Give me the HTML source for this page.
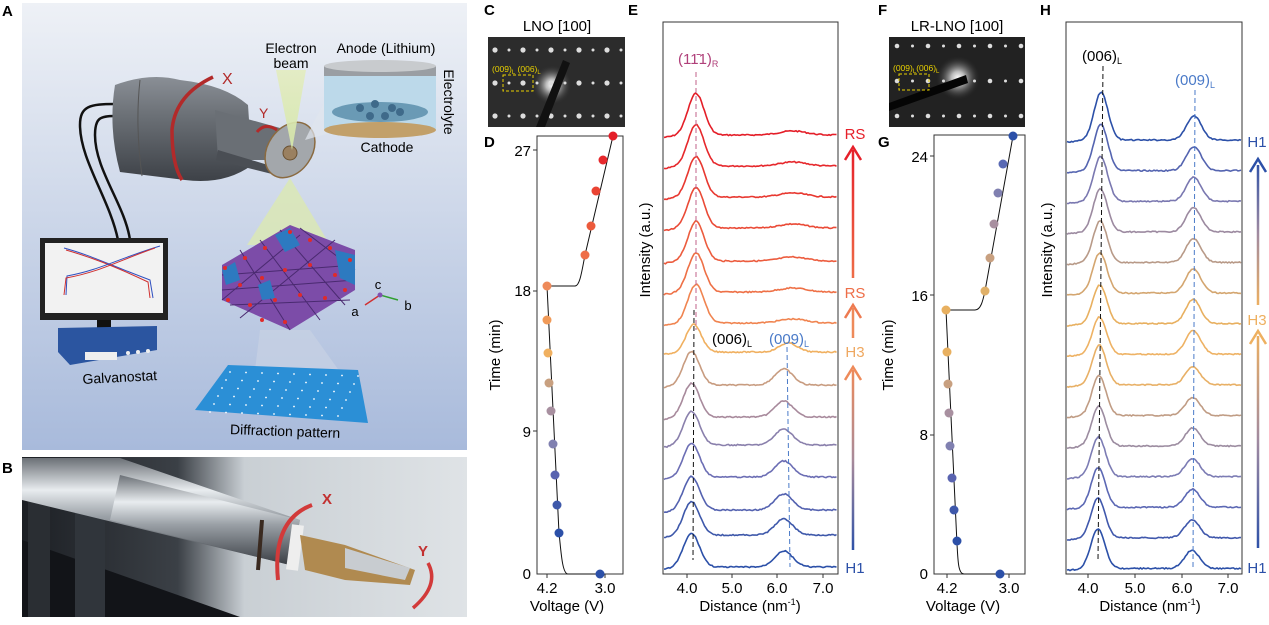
<!DOCTYPE html>
<html><head><meta charset="utf-8">
<style>
html,body{margin:0;padding:0;background:#fff;}
body{width:1269px;height:620px;overflow:hidden;font-family:"Liberation Sans",Arial,sans-serif;}
svg text{font-family:"Liberation Sans",Arial,sans-serif;}
</style></head>
<body>
<svg id="s" width="1269" height="620" viewBox="0 0 1269 620" xmlns="http://www.w3.org/2000/svg">
<defs>
<linearGradient id="bgA" x1="0" y1="0" x2="0" y2="1"><stop offset="0" stop-color="#eef1f6"/><stop offset="1" stop-color="#a8badb"/></linearGradient>
<linearGradient id="cyl" x1="0" y1="0" x2="0" y2="1"><stop offset="0" stop-color="#8a8f96"/><stop offset="0.35" stop-color="#6d7278"/><stop offset="1" stop-color="#3d4147"/></linearGradient>
<linearGradient id="rod" x1="0" y1="0" x2="0" y2="1"><stop offset="0" stop-color="#6b7076"/><stop offset="0.3" stop-color="#e8ecef"/><stop offset="0.55" stop-color="#9aa0a6"/><stop offset="1" stop-color="#3a3e44"/></linearGradient>
<linearGradient id="beam" x1="0" y1="0" x2="0" y2="1"><stop offset="0" stop-color="#e3ecc0"/><stop offset="1" stop-color="#d6e8a8"/></linearGradient>
<linearGradient id="bgB" x1="0" y1="0" x2="1" y2="0"><stop offset="0" stop-color="#1c1f24"/><stop offset="0.35" stop-color="#3b4046"/><stop offset="0.5" stop-color="#c9cfd4"/><stop offset="1" stop-color="#dfe3e6"/></linearGradient>
<linearGradient id="aE1" gradientUnits="userSpaceOnUse" x1="0" y1="280" x2="0" y2="148"><stop offset="0" stop-color="#ee6e48"/><stop offset="1" stop-color="#e6202a"/></linearGradient>
<linearGradient id="aE3" gradientUnits="userSpaceOnUse" x1="0" y1="552" x2="0" y2="368"><stop offset="0" stop-color="#2c50a8"/><stop offset="0.5" stop-color="#a88a9a"/><stop offset="1" stop-color="#ee8a5a"/></linearGradient>
<linearGradient id="aH1" gradientUnits="userSpaceOnUse" x1="0" y1="307" x2="0" y2="160"><stop offset="0" stop-color="#eeb060"/><stop offset="0.5" stop-color="#a08aa0"/><stop offset="1" stop-color="#2c50a8"/></linearGradient>
<linearGradient id="aH2" gradientUnits="userSpaceOnUse" x1="0" y1="550" x2="0" y2="332"><stop offset="0" stop-color="#2c50a8"/><stop offset="0.5" stop-color="#a08aa0"/><stop offset="1" stop-color="#eeb060"/></linearGradient>
<radialGradient id="glow"><stop offset="0" stop-color="#fff"/><stop offset="0.3" stop-color="#bbb"/><stop offset="1" stop-color="#2a2a2a" stop-opacity="0"/></radialGradient>
</defs>

<!-- Panel A -->
<text x="2" y="16" font-size="15" font-weight="bold">A</text>
<rect x="22" y="3" width="445" height="447" fill="url(#bgA)"/>
<path d="M115,104 C90,104 80,106 80,125 C80,160 110,200 118,240" fill="none" stroke="#111" stroke-width="2.5"/>
<path d="M115,116 C100,116 95,118 95,135 C95,170 125,205 130,240" fill="none" stroke="#111" stroke-width="2.5"/>
<path d="M115,85 Q150,72 180,80 Q225,85 248,105 L252,165 Q225,185 185,180 L120,172 Q108,128 115,85 Z" fill="url(#cyl)"/>
<path d="M140,80 Q135,125 142,176" fill="none" stroke="#555" stroke-width="1"/>
<path d="M215,110 L280,128 L285,160 L218,160 Z" fill="#6a6f75"/>
<path d="M218,150 L278,168 L276,175 L216,160 Z" fill="#4a4e54"/>
<ellipse cx="290" cy="150" rx="22" ry="30" transform="rotate(35 290 150)" fill="#a3a7ab" stroke="#8a6a40" stroke-width="1.5"/>
<ellipse cx="290" cy="153" rx="7" ry="7" fill="#9a8060" stroke="#6a5030"/>
<path d="M213,77 Q175,95 172,130 Q172,165 182,180" fill="none" stroke="#b22a2a" stroke-width="3.5"/>
<text x="222" y="84" font-size="16" fill="#b22a2a">X</text>
<path d="M257,132 Q265,122 277,130" fill="none" stroke="#b22a2a" stroke-width="3"/>
<text x="259" y="118" font-size="14" fill="#b22a2a">Y</text>
<polygon points="276,70 306,70 292,150" fill="url(#beam)" opacity="0.9"/>
<polygon points="290,178 330,245 247,245" fill="#dbe8b5" opacity="0.85"/>
<polygon points="260,330 310,330 340,372 255,370" fill="#c8d2e4" opacity="0.7"/>
<text x="291" y="53" font-size="14" text-anchor="middle">Electron</text>
<text x="291" y="68" font-size="14" text-anchor="middle">beam</text>
<text x="386" y="53" font-size="14" text-anchor="middle">Anode (Lithium)</text>
<text x="444" y="102" font-size="14" transform="rotate(90 444 102)" text-anchor="middle">Electrolyte</text>
<text x="387" y="152" font-size="14" text-anchor="middle">Cathode</text>
<polygon points="305,140 325,100 340,130" fill="#dfe5ee" opacity="0.7"/>
<rect x="324" y="70" width="112" height="60" fill="#bcd9ea"/>
<ellipse cx="380" cy="130" rx="56" ry="8" fill="#c2a06a"/>
<ellipse cx="380" cy="112" rx="48" ry="10" fill="#6a9ab5"/>
<rect x="324" y="66" width="112" height="10" fill="#9a9ea3"/>
<ellipse cx="380" cy="66" rx="56" ry="6" fill="#c8cbce"/>
<g fill="#3f6a8a"><circle cx="360" cy="108" r="4"/><circle cx="375" cy="104" r="4"/><circle cx="392" cy="108" r="4"/><circle cx="370" cy="116" r="4"/><circle cx="385" cy="116" r="4"/><circle cx="400" cy="112" r="4"/></g>
<rect x="40" y="238" width="128" height="82" fill="#222"/>
<rect x="45" y="243" width="118" height="70" fill="#f2f2f2"/>
<path d="M64,248 C90,255 110,265 150,280 L153,298" fill="none" stroke="#3050c0" stroke-width="1"/>
<path d="M66,250 C90,257 112,265 148,282 L150,298" fill="none" stroke="#d03030" stroke-width="1"/>
<path d="M66,295 L67,276 C100,270 120,258 160,246" fill="none" stroke="#3050c0" stroke-width="1"/>
<path d="M64,295 L66,278 C100,272 120,260 155,248" fill="none" stroke="#d03030" stroke-width="1"/>
<rect x="97" y="320" width="14" height="12" fill="#111"/>
<rect x="82" y="330" width="50" height="10" fill="#111"/>
<polygon points="58,328 157,326 157,350 70,365 58,352" fill="#2b55a0"/>
<rect x="85" y="352" width="32" height="8" fill="#eee"/>
<circle cx="128" cy="353" r="2" fill="#eee"/><circle cx="138" cy="352" r="2" fill="#eee"/><circle cx="148" cy="351" r="2" fill="#eee"/>
<text x="120" y="382" font-size="14" text-anchor="middle" transform="rotate(-3 120 382)">Galvanostat</text>
<polygon points="222,265 290,225 355,250 355,290 290,330 222,300" fill="#7c4ca8"/>
<g stroke="#4a2a70" stroke-width="1" fill="none">
<path d="M222,275 L355,265 M222,290 L355,280 M230,305 L350,300 M240,250 L290,330 M260,240 L320,320 M280,230 L345,305 M300,228 L355,270 M222,300 L300,235 M240,318 L335,240"/>
</g>
<polygon points="275,235 290,228 300,245 285,252" fill="#2d7ac0"/>
<polygon points="222,270 235,262 240,280 226,285" fill="#2d7ac0"/>
<polygon points="258,285 270,280 275,298 262,300" fill="#2d7ac0"/>
<polygon points="335,250 355,255 355,285 340,278" fill="#2d7ac0"/>
<g fill="#e02a2a"><circle cx="225" cy="268" r="2"/><circle cx="245" cy="258" r="2"/><circle cx="265" cy="248" r="2"/><circle cx="290" cy="232" r="2"/><circle cx="310" cy="240" r="2"/><circle cx="330" cy="248" r="2"/><circle cx="350" cy="260" r="2"/><circle cx="240" cy="285" r="2"/><circle cx="262" cy="278" r="2"/><circle cx="285" cy="270" r="2"/><circle cx="310" cy="265" r="2"/><circle cx="335" cy="275" r="2"/><circle cx="228" cy="300" r="2"/><circle cx="250" cy="305" r="2"/><circle cx="275" cy="300" r="2"/><circle cx="300" cy="295" r="2"/><circle cx="325" cy="298" r="2"/><circle cx="262" cy="320" r="2"/><circle cx="285" cy="322" r="2"/><circle cx="345" cy="290" r="2"/></g>
<line x1="380" y1="295" x2="365" y2="305" stroke="#d03030" stroke-width="1.5"/>
<line x1="380" y1="295" x2="398" y2="300" stroke="#30a030" stroke-width="1.5"/>
<circle cx="380" cy="295" r="2.5" fill="#8050b0"/>
<text x="378" y="289" font-size="13" text-anchor="middle">c</text>
<text x="355" y="316" font-size="13" text-anchor="middle">a</text>
<text x="408" y="310" font-size="13" text-anchor="middle">b</text>
<polygon points="228,365 358,370 368,423 195,410" fill="#2b8fd6"/>
<g id="dots" fill="#fff"></g>
<text x="285" y="436" font-size="14" text-anchor="middle" transform="rotate(2 285 436)">Diffraction pattern</text>

<!-- Panel B -->
<text x="2" y="473" font-size="15" font-weight="bold">B</text>
<rect x="22" y="457" width="445" height="160" fill="url(#bgB)"/>
<polygon points="22,540 240,617 22,617" fill="#121418"/>
<rect x="28" y="480" width="22" height="137" fill="#2a2e33"/>
<rect x="75" y="500" width="30" height="117" fill="#30353b"/>
<polygon points="22,458 120,458 300,520 290,565 22,500" fill="url(#rod)"/>
<polygon points="120,475 300,520 290,565 110,520" fill="url(#rod)"/>
<path d="M262,520 L258,570" stroke="#3a2a20" stroke-width="4"/>
<path d="M298,525 L292,570" stroke="#eee" stroke-width="12"/>
<polygon points="300,535 345,545 415,570 410,585 345,580 305,570" fill="#b08a50"/>
<polygon points="345,548 410,568 405,580 345,568" fill="#c8ccd0"/>
<path d="M312,505 Q272,520 278,580" fill="none" stroke="#d23a3a" stroke-width="4"/>
<text x="322" y="504" font-size="15" fill="#c23030" font-weight="bold">X</text>
<path d="M428,563 Q440,585 413,608" fill="none" stroke="#d23a3a" stroke-width="3.5"/>
<text x="418" y="556" font-size="15" fill="#c23030" font-weight="bold">Y</text>

<!-- C -->
<text x="484" y="15" font-size="15" font-weight="bold">C</text>
<text x="557" y="31" font-size="15" text-anchor="middle">LNO [100]</text>
<rect x="488" y="37" width="137" height="90" fill="#2c2c2c"/>
<circle cx="552" cy="85" r="20" fill="url(#glow)"/>
<g id="cdots" fill="#ddd"></g>
<polygon points="563,60 570,63 545,127 536,127" fill="#111"/>
<rect x="503" y="75" width="30" height="16" fill="none" stroke="#e8d000" stroke-dasharray="3,2"/>
<text x="492" y="72" font-size="8.5" fill="#e8d000">(009)<tspan font-size="6" dy="2">L</tspan><tspan dy="-2"> (006)</tspan><tspan font-size="6" dy="2">L</tspan></text>

<!-- F -->
<text x="878" y="15" font-size="15" font-weight="bold">F</text>
<text x="957" y="31" font-size="15" text-anchor="middle">LR-LNO [100]</text>
<rect x="889" y="37" width="136" height="90" fill="#222"/>
<circle cx="958" cy="78" r="22" fill="url(#glow)"/>
<g id="fdots" fill="#ddd"></g>
<polygon points="889,103 966,75 968,83 889,111" fill="#050505"/>
<rect x="899" y="74" width="30" height="16" fill="none" stroke="#e8d000" stroke-dasharray="3,2"/>
<text x="893" y="71" font-size="8.5" fill="#e8d000">(009)<tspan font-size="6" dy="2">L</tspan><tspan dy="-2">(006)</tspan><tspan font-size="6" dy="2">L</tspan></text>

<!-- D -->
<text x="484" y="147" font-size="15" font-weight="bold">D</text>
<rect x="537" y="136" width="86" height="438" fill="none" stroke="#333" stroke-width="1"/>
<g font-size="15" text-anchor="end">
<text x="531" y="156">27</text><text x="531" y="296">18</text><text x="531" y="437">9</text><text x="531" y="579">0</text></g>
<g stroke="#333"><line x1="533" y1="150" x2="537" y2="150"/><line x1="533" y1="291" x2="537" y2="291"/><line x1="533" y1="431" x2="537" y2="431"/><line x1="547" y1="574" x2="547" y2="578"/><line x1="605" y1="574" x2="605" y2="578"/></g>
<g font-size="15" text-anchor="middle"><text x="547" y="593">4.2</text><text x="605" y="593">3.0</text><text x="567" y="611">Voltage (V)</text></g>
<text x="500" y="355" font-size="15" text-anchor="middle" transform="rotate(-90 500 355)">Time (min)</text>
<path d="M600,574 L568,574 C562,574 561,550 559,533 L547,286 L575,286 C580,286 582,270 585,255 L613,136" fill="none" stroke="#111" stroke-width="1"/>
<g id="ddots"></g>

<!-- E -->
<text x="628" y="15" font-size="15" font-weight="bold">E</text>
<rect x="663" y="22" width="175" height="552" fill="none" stroke="#333"/>
<g id="ecur"></g>
<line x1="696" y1="72" x2="696" y2="330" stroke="#c0608a" stroke-dasharray="5,3"/>
<line x1="694" y1="310" x2="693" y2="560" stroke="#111" stroke-dasharray="5,3"/>
<line x1="787" y1="347" x2="790" y2="567" stroke="#4a7ac8" stroke-dasharray="5,3"/>
<text x="678" y="64" font-size="15" fill="#b0407a">(11̄1)<tspan font-size="9" dy="3">R</tspan></text>
<text x="712" y="344" font-size="15">(006)<tspan font-size="9" dy="3">L</tspan></text>
<text x="769" y="344" font-size="15" fill="#4a7ac8">(009)<tspan font-size="9" dy="3">L</tspan></text>
<g stroke="#333"><line x1="687" y1="574" x2="687" y2="578"/><line x1="732" y1="574" x2="732" y2="578"/><line x1="777" y1="574" x2="777" y2="578"/><line x1="823" y1="574" x2="823" y2="578"/></g>
<g font-size="15" text-anchor="middle"><text x="687" y="593">4.0</text><text x="732" y="593">5.0</text><text x="777" y="593">6.0</text><text x="823" y="593">7.0</text>
<text x="750" y="611">Distance (nm<tspan font-size="9" dy="-6">-1</tspan><tspan dy="6">)</tspan></text></g>
<text x="650" y="250" font-size="15" text-anchor="middle" transform="rotate(-90 650 250)">Intensity (a.u.)</text>
<text x="855" y="139" font-size="15" text-anchor="middle" fill="#e6202a">RS</text>
<line x1="853" y1="278" x2="853" y2="150" stroke="url(#aE1)" stroke-width="2.5"/>
<path d="M845,160 L853,147 L861,160" fill="none" stroke="#e6202a" stroke-width="2.5"/>
<text x="855" y="298" font-size="15" text-anchor="middle" fill="#ee6e48">RS</text>
<line x1="853" y1="338" x2="853" y2="308" stroke="#ee8a5a" stroke-width="2.5"/>
<path d="M845,318 L853,305 L861,318" fill="none" stroke="#ee7a50" stroke-width="2.5"/>
<text x="855" y="357" font-size="15" text-anchor="middle" fill="#efa860">H3</text>
<line x1="853" y1="550" x2="853" y2="370" stroke="url(#aE3)" stroke-width="2.5"/>
<path d="M845,380 L853,367 L861,380" fill="none" stroke="#ee8a5a" stroke-width="2.5"/>
<text x="855" y="573" font-size="15" text-anchor="middle" fill="#2c50a8">H1</text>

<!-- G -->
<text x="878" y="147" font-size="15" font-weight="bold">G</text>
<rect x="934" y="135" width="91" height="439" fill="none" stroke="#333"/>
<g font-size="15" text-anchor="end"><text x="928" y="162">24</text><text x="928" y="301">16</text><text x="928" y="440">8</text><text x="928" y="579">0</text></g>
<g stroke="#333"><line x1="930" y1="156" x2="934" y2="156"/><line x1="930" y1="295" x2="934" y2="295"/><line x1="930" y1="435" x2="934" y2="435"/><line x1="947" y1="574" x2="947" y2="578"/><line x1="1009" y1="574" x2="1009" y2="578"/></g>
<g font-size="15" text-anchor="middle"><text x="947" y="593">4.2</text><text x="1009" y="593">3.0</text><text x="963" y="611">Voltage (V)</text></g>
<text x="893" y="355" font-size="15" text-anchor="middle" transform="rotate(-90 893 355)">Time (min)</text>
<path d="M1000,574 L964,574 C958,574 958,560 957,544 L946,310 L975,310 C981,310 983,300 985,291 L1013,136" fill="none" stroke="#111" stroke-width="1"/>
<g id="gdots"></g>

<!-- H -->
<text x="1040" y="15" font-size="15" font-weight="bold">H</text>
<rect x="1066" y="22" width="176" height="552" fill="none" stroke="#333"/>
<g id="hcur"></g>
<line x1="1103" y1="66" x2="1098" y2="560" stroke="#111" stroke-dasharray="5,3"/>
<line x1="1195" y1="90" x2="1193" y2="567" stroke="#4a7ac8" stroke-dasharray="5,3"/>
<text x="1082" y="61" font-size="15">(006)<tspan font-size="9" dy="3">L</tspan></text>
<text x="1175" y="85" font-size="15" fill="#4a7ac8">(009)<tspan font-size="9" dy="3">L</tspan></text>
<g stroke="#333"><line x1="1088" y1="574" x2="1088" y2="578"/><line x1="1135" y1="574" x2="1135" y2="578"/><line x1="1182" y1="574" x2="1182" y2="578"/><line x1="1228" y1="574" x2="1228" y2="578"/></g>
<g font-size="15" text-anchor="middle"><text x="1088" y="593">4.0</text><text x="1135" y="593">5.0</text><text x="1182" y="593">6.0</text><text x="1228" y="593">7.0</text>
<text x="1150" y="611">Distance (nm<tspan font-size="9" dy="-6">-1</tspan><tspan dy="6">)</tspan></text></g>
<text x="1052" y="250" font-size="15" text-anchor="middle" transform="rotate(-90 1052 250)">Intensity (a.u.)</text>
<text x="1257" y="147" font-size="15" text-anchor="middle" fill="#2c50a8">H1</text>
<line x1="1258" y1="305" x2="1258" y2="165" stroke="url(#aH1)" stroke-width="2.5"/>
<path d="M1250,172 L1258,159 L1266,172" fill="none" stroke="#2c50a8" stroke-width="2.5"/>
<text x="1257" y="325" font-size="15" text-anchor="middle" fill="#eeb060">H3</text>
<line x1="1258" y1="548" x2="1258" y2="336" stroke="url(#aH2)" stroke-width="2.5"/>
<path d="M1250,344 L1258,331 L1266,344" fill="none" stroke="#eeb060" stroke-width="2.5"/>
<text x="1257" y="573" font-size="15" text-anchor="middle" fill="#2c50a8">H1</text>
</svg>
<script>
(function(){
var NS="http://www.w3.org/2000/svg";
function el(p,t,a){var e=document.createElementNS(NS,t);for(var k in a)e.setAttribute(k,a[k]);document.getElementById(p).appendChild(e);return e;}
var seed=7;function rnd(){seed=(seed*9301+49297)%233280;return seed/233280;}
function g(x,m,s){return Math.exp(-(x-m)*(x-m)/(2*s*s));}
function curve(p,x0,x1,x2px,base,peaks,col,w){
 var d="";for(var px=x0;px<=x1;px+=1.5){var x=x2px(px);var y=base+5*Math.exp(-(x-3.4)/0.4)*0.6;
 for(var i=0;i<peaks.length;i++){y-=peaks[i][1]*g(x,peaks[i][0],peaks[i][2]);}
 y+=(rnd()-0.5)*1.2;d+=(d?"L":"M")+px.toFixed(1)+","+y.toFixed(1);}
 el(p,"path",{d:d,fill:"none",stroke:col,"stroke-width":w||1.6});}
var eb=[135,166,197,228,261,292,323,352,385,417,445,477,510,535,567];
var ec=["#e41e28","#e6282c","#e83830","#ea4a36","#ec5c3e","#ee7046","#f08450","#f0b060","#c89c80","#a88a9c","#8a80ac","#6c6eb4","#5462b0","#3e58aa","#2c50a8"];
var eX=function(px){return 4+(px-687)/45;};
for(var i=0;i<15;i++){var pk;
 if(i<7)pk=[[4.2,42-i*0.5,0.18],[6.35,4,0.3]];
 else if(i==7)pk=[[4.15,28,0.17],[6.25,9,0.2]];
 else pk=[[4.1,34,0.18],[6.15,16,0.2]];
 curve("ecur",664,837,eX,eb[i],pk,ec[i]);}
var hX=function(px){return 4+(px-1088)/46.7;};
var hc=["#2c50a8","#5464b0","#7a78b0","#9c8aa0","#b89a88","#d4a670","#e8b060","#eeb264","#e8b066","#c09c84","#9c8ca0","#7c7cb4","#5c68b4","#4058ac","#2c50a8"];
for(var i=0;i<15;i++){var b=140+i*30.6;
 var a1=i<8?48-i*1.5:40,a2=i<8?24:18;
 curve("hcur",1067,1241,hX,b,[[4.28-i*0.005,a1,0.15],[6.27-i*0.003,a2,0.16]],hc[i]);}
var dd=[[600,574,"#2c50a8"],[559,533,"#2c50a8"],[557,505,"#3e58aa"],[555,475,"#5a64b0"],[553,444,"#8080b0"],[551,411,"#a890a0"],[549,383,"#c8a080"],[548,353,"#f0b060"],[547,320,"#f09a58"],[547,286,"#ee8a5a"],[585,255,"#ee6e48"],[591,226,"#ec5a3c"],[596,191,"#ea4433"],[603,160,"#e6282c"],[613,136,"#e41e28"]];
dd.forEach(function(q){el("ddots","circle",{cx:q[0],cy:q[1],r:4.5,fill:q[2]});});
var gd=[[1000,574,"#2c50a8"],[957,541,"#2c50a8"],[954,510,"#3e58aa"],[952,478,"#5a64b0"],[950,446,"#8080b0"],[949,413,"#a890a0"],[948,384,"#c8a080"],[947,352,"#e8b060"],[946,310,"#e8b060"],[985,291,"#e0b068"],[990,258,"#c8a080"],[994,224,"#a890a0"],[998,193,"#8080b0"],[1003,164,"#5a6ab4"],[1013,136,"#2c50a8"]];
gd.forEach(function(q){el("gdots","circle",{cx:q[0],cy:q[1],r:4.5,fill:q[2]});});
for(var r=0;r<3;r++)for(var c=0;c<10;c++){el("cdots","circle",{cx:495+c*14,cy:50+r*33,r:c%2?1.5:2.6});}
for(var r=0;r<3;r++)for(var c=0;c<9;c++){el("fdots","circle",{cx:897+c*15.5,cy:46+r*35,r:c%2?1.5:2.3});}
for(var r=0;r<6;r++)for(var c=0;c<9;c++){el("dots","circle",{cx:230+c*16-r*4,cy:372+r*8+c*0.5,r:0.9});}
})();
</script>
</body></html>
